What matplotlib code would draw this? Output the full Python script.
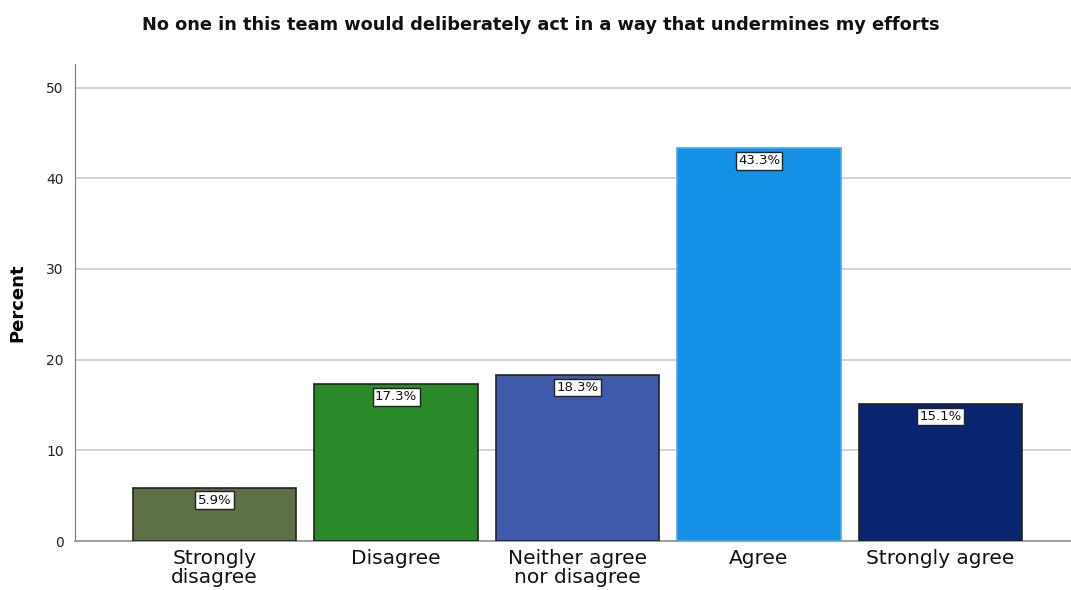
import matplotlib
matplotlib.use("Agg")
import matplotlib.pyplot as plt
import numpy as np

categories = ["Strongly\ndisagree", "Disagree", "Neither agree\nnor disagree",
              "Agree", "Strongly agree"]
percents = [5.9, 17.3, 18.3, 43.3, 15.1]
bar_colors = ["#5E7048", "#2A8A2A", "#3F5AAA", "#1490E6", "#0A2570"]
edge_colors = ["#222222", "#222222", "#222222", "#4AA8EE", "#222222"]
yticks = [0, 10, 20, 30, 40, 50]

fig = plt.figure(figsize=(10.71, 5.90), dpi=100)
ax = fig.add_axes([0.070, 0.083, 0.930, 0.8085])

x = np.arange(len(categories))
bars = ax.bar(x, percents, width=0.9, color=bar_colors,
              edgecolor=edge_colors, linewidth=1.2, zorder=3)

# value boxes hang just below the top of each bar
for rect, val in zip(bars, percents):
    ax.annotate(f"{val:.1f}%", xy=(rect.get_x() + rect.get_width() / 2, val),
                xytext=(0, -9), textcoords="offset points",
                ha="center", va="center", fontsize=9.5, color="#111111",
                bbox=dict(boxstyle="square,pad=0.18", fc="white",
                          ec="#222222", lw=1.0), zorder=4)

ax.set_xlim(-0.77, 4.72)
ax.set_ylim(0, 52.6)
ax.set_yticks(yticks)
ax.set_xticks(x)
ax.set_xticklabels(categories, fontsize=14.5, linespacing=0.95, color="#111111")
ax.tick_params(axis="x", length=0, pad=6)
ax.tick_params(axis="y", length=0, pad=8, labelsize=10, labelcolor="#222222")

ax.yaxis.grid(True, color="#c8c8c8", linewidth=1.1, zorder=0)
ax.set_axisbelow(True)
for side in ["top", "right"]:
    ax.spines[side].set_visible(False)
ax.spines["left"].set_color("#777777")
ax.spines["bottom"].set_color("#999999")
ax.spines["bottom"].set_linewidth(1.3)

ax.set_ylabel("Percent", fontsize=13, fontweight="bold", labelpad=14)
fig.text(0.505, 0.958, "No one in this team would deliberately act in a way "
         "that undermines my efforts", ha="center", va="center",
         fontsize=12.8, fontweight="bold", color="#111111")

fig.savefig("out.png", dpi=100)
